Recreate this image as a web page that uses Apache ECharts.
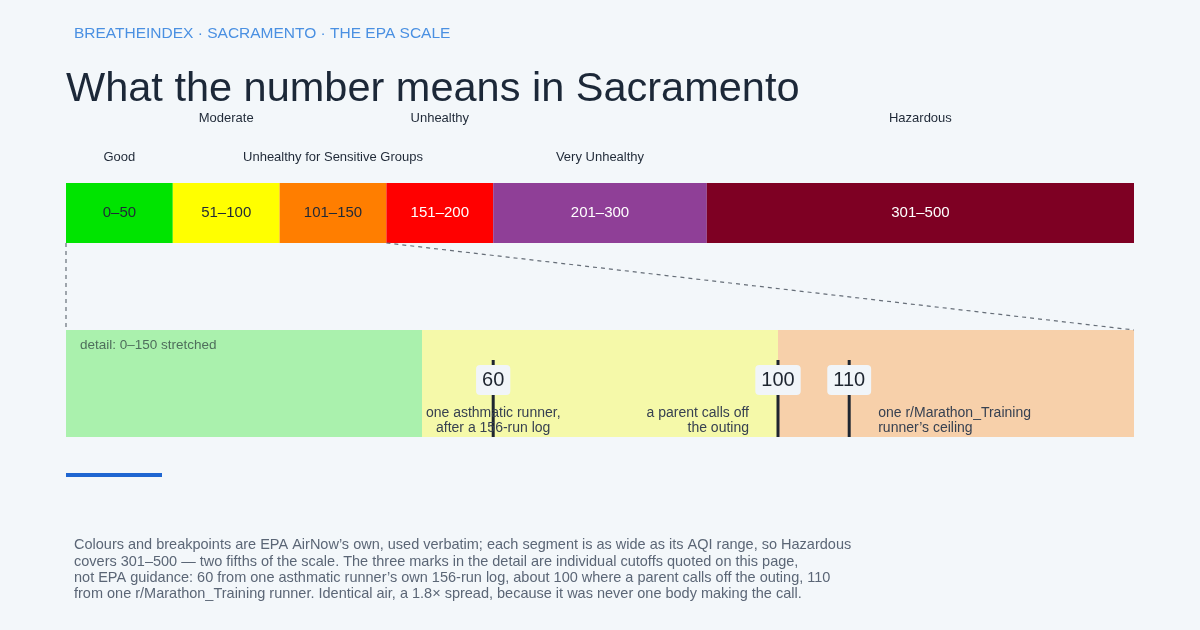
<!DOCTYPE html>
<html>
<head>
<meta charset="utf-8">
<title>What the number means in Sacramento</title>
<script src="https://cdn.jsdelivr.net/npm/echarts@6/dist/echarts.min.js"></script>
<style>
  html, body { margin: 0; padding: 0; background: #f3f7fa; }
  #main { width: 1200px; height: 630px; }
</style>
</head>
<body>
<div id="main"></div>
<script>
// EPA AQI bands
var bandNames = ['Good', 'Moderate', 'Unhealthy for Sensitive Groups', 'Unhealthy', 'Very Unhealthy', 'Hazardous'];
var bandStart = [0, 50, 100, 150, 200, 300];
var bandEnd = [50, 100, 150, 200, 300, 500];
var bandLabels = ['0–50', '51–100', '101–150', '151–200', '201–300', '301–500'];
var scaleMax = 500;
var detailMax = 150;

// individual cutoffs quoted on the page
var cutoffValues = [60, 100, 110];
var cutoffNotes = ['one asthmatic runner,\nafter a 156-run log', 'a parent calls off\nthe outing', 'one r/Marathon_Training\nrunner’s ceiling'];

// styles
var bandColors = ['#00e400', '#ffff00', '#ff7e00', '#ff0000', '#8f3f97', '#7e0023'];
var bandTextColors = ['#1f2937', '#1f2937', '#1f2937', '#ffffff', '#ffffff', '#ffffff'];
var detailColors = ['#aaf1ad', '#f5f9a9', '#f7d0aa'];
var noteAlign = ['center', 'right', 'left'];

var footer = 'Colours and breakpoints are EPA AirNow’s own, used verbatim; each segment is as wide as its AQI range, so Hazardous\n' +
  'covers 301–500 — two fifths of the scale. The three marks in the detail are individual cutoffs quoted on this page,\n' +
  'not EPA guidance: 60 from one asthmatic runner’s own 156-run log, about 100 where a parent calls off the outing, 110\n' +
  'from one r/Marathon_Training runner. Identical air, a 1.8× spread, because it was never one body making the call.';

var FONT = '"Liberation Sans", Arial, Helvetica, sans-serif';

var bandData = bandStart.map(function (s, i) { return [s, bandEnd[i], i]; });
var detailData = [];
bandStart.forEach(function (s, i) {
  if (bandEnd[i] <= detailMax) detailData.push([s, bandEnd[i], i]);
});
var cutoffData = cutoffValues.map(function (v, i) { return [v, i]; });

var myChart = echarts.init(document.getElementById('main'));

var option = {
  backgroundColor: '#f3f7fa',
  animation: false,
  title: [
    {
      text: 'BREATHEINDEX · SACRAMENTO · THE EPA SCALE',
      left: 74, top: 26, padding: 0,
      textStyle: { color: '#4a90e2', fontSize: 15.5, fontWeight: 'normal', fontFamily: FONT }
    },
    {
      text: 'What the number means in Sacramento',
      left: 66, top: 69, padding: 0,
      textStyle: { color: '#1c2838', fontSize: 41.5, fontWeight: 'normal', fontFamily: FONT }
    }
  ],
  grid: [
    { left: 66, right: 66, top: 183, height: 60 },
    { left: 66, right: 66, top: 330, height: 107 }
  ],
  xAxis: [
    { gridIndex: 0, type: 'value', min: 0, max: scaleMax, show: false },
    { gridIndex: 1, type: 'value', min: 0, max: detailMax, show: false }
  ],
  yAxis: [
    { gridIndex: 0, type: 'value', min: 0, max: 1, show: false },
    { gridIndex: 1, type: 'value', min: 0, max: 1, show: false }
  ],
  graphic: [
    {
      type: 'rect', left: 66, top: 473,
      shape: { width: 96, height: 4 },
      style: { fill: '#1f66d1' }
    },
    {
      type: 'text', left: 74, top: 537,
      style: { text: footer, fill: '#5b6676', fontSize: 14.5, lineHeight: 16.4, fontFamily: FONT }
    }
  ],
  series: [
    {
      type: 'custom',
      xAxisIndex: 0, yAxisIndex: 0,
      data: bandData,
      renderItem: function (params, api) {
        var i = api.value(2);
        var a = api.coord([api.value(0), 1]);
        var b = api.coord([api.value(1), 0]);
        var cx = (a[0] + b[0]) / 2;
        return {
          type: 'group',
          children: [
            { type: 'rect', shape: { x: a[0], y: a[1], width: b[0] - a[0], height: b[1] - a[1] }, style: { fill: bandColors[i] } },
            { type: 'text', x: cx, y: (a[1] + b[1]) / 2,
              style: { text: bandLabels[i], fill: bandTextColors[i], fontSize: 15, fontFamily: FONT, align: 'center', verticalAlign: 'middle' } },
            { type: 'text', x: cx, y: a[1] - (i % 2 === 1 ? 65 : 26),
              style: { text: bandNames[i], fill: '#1f2937', fontSize: 13, fontFamily: FONT, align: 'center', verticalAlign: 'middle' } }
          ]
        };
      }
    },
    {
      type: 'custom',
      xAxisIndex: 1, yAxisIndex: 1,
      data: detailData,
      renderItem: function (params, api) {
        var i = api.value(2);
        var a = api.coord([api.value(0), 1]);
        var b = api.coord([api.value(1), 0]);
        var children = [
          { type: 'rect', shape: { x: a[0], y: a[1], width: b[0] - a[0], height: b[1] - a[1] }, style: { fill: detailColors[i] } }
        ];
        if (i === 0) {
          children.push({ type: 'text', x: a[0] + 14, y: a[1] + 15,
            style: { text: 'detail: 0–' + detailMax + ' stretched', fill: '#4f6f5c', fontSize: 13.5, fontFamily: FONT, align: 'left', verticalAlign: 'middle' } });
        }
        return { type: 'group', children: children };
      }
    },
    {
      type: 'custom',
      xAxisIndex: 1, yAxisIndex: 1,
      data: cutoffData,
      z: 5,
      renderItem: function (params, api) {
        var v = api.value(0);
        var i = api.value(1);
        var top = api.coord([v, 1]);
        var bot = api.coord([v, 0]);
        var x = top[0];
        var align = noteAlign[i];
        var nx = align === 'center' ? x : (align === 'right' ? x - 29 : x + 29);
        return {
          type: 'group',
          children: [
            { type: 'line', shape: { x1: x, y1: top[1] + 30, x2: x, y2: bot[1] }, style: { stroke: '#1e2530', lineWidth: 3 } },
            { type: 'text', x: nx, y: top[1] + 76,
              style: { text: cutoffNotes[i], fill: '#374151', fontSize: 14, lineHeight: 15, fontFamily: FONT, align: align, verticalAlign: 'top' } },
            { type: 'text', x: x, y: top[1] + 50,
              style: { text: String(v), fill: '#1e2530', fontSize: 20, fontFamily: FONT, align: 'center', verticalAlign: 'middle',
                backgroundColor: '#f1f5f9', borderRadius: 4, padding: [5, 6, 5, 6] } }
          ]
        };
      }
    }
  ]
};

myChart.setOption(option);

// dashed connectors from the 0–150 part of the scale to the detail strip
var p0 = myChart.convertToPixel({ gridIndex: 0 }, [0, 0]);
var p1 = myChart.convertToPixel({ gridIndex: 1 }, [0, 1]);
var q0 = myChart.convertToPixel({ gridIndex: 0 }, [detailMax, 0]);
var q1 = myChart.convertToPixel({ gridIndex: 1 }, [detailMax, 1]);
var dashStyle = { stroke: '#666e78', lineWidth: 1.2, lineDash: [4, 4] };
option.graphic.push(
  { type: 'line', shape: { x1: p0[0], y1: p0[1], x2: p1[0], y2: p1[1] }, style: dashStyle, z: 10 },
  { type: 'line', shape: { x1: q0[0], y1: q0[1], x2: q1[0], y2: q1[1] }, style: dashStyle, z: 10 }
);
myChart.setOption({ graphic: option.graphic });
</script>
</body>
</html>
